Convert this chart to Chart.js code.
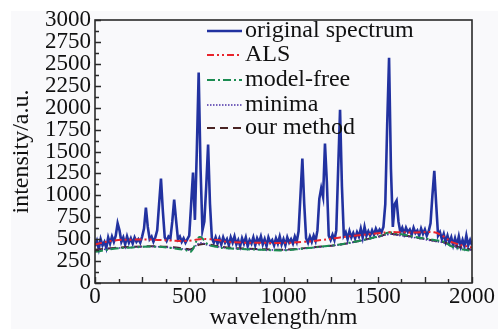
<!DOCTYPE html>
<html><head><meta charset="utf-8">
<script src="https://cdn.jsdelivr.net/npm/chart.js@4/dist/chart.umd.min.js"></script>
<style>html,body{margin:0;padding:0;background:#fff}canvas{display:block}</style>
</head><body>
<canvas id="c" width="498" height="329"></canvas>
<script>
// ---- data ----
const wavelength = [];
for (let w = 0; w <= 2000; w += 10) wavelength.push(w);
const original = [
420,480,390,500,430,470,400,520,450,530,470,540,680,600,470,520,440,530,460,510,
450,520,470,500,460,530,620,860,640,500,530,470,520,600,900,1190,820,520,480,530,
510,700,950,720,500,530,470,510,460,500,540,900,1260,720,1500,2400,1300,600,700,1100,
1580,900,510,460,520,450,510,440,520,460,500,430,520,460,530,440,490,420,510,450,
520,420,490,450,520,430,510,460,530,440,500,420,520,460,490,430,510,450,530,440,
500,430,520,460,500,450,530,470,590,1000,1420,900,510,460,530,470,540,480,600,960,
1080,980,1590,1150,540,490,550,490,600,1300,1975,1100,540,580,500,590,520,570,510,580,
530,620,520,640,540,590,540,600,550,620,570,610,580,640,900,1800,2570,1300,640,900,
940,700,580,630,560,630,580,610,550,630,570,600,540,620,560,610,540,590,680,1000,
1280,900,540,580,500,560,470,540,460,520,430,510,430,530,420,490,420,540,430,490,
430];
const baseX = [0,100,200,300,400,480,510,555,600,650,700,800,900,1000,1100,1200,1300,1400,1500,1560,1600,1700,1800,1850,1900,2000];
const als = [440,485,495,495,485,478,485,500,500,490,470,460,458,458,468,490,520,545,568,580,580,576,578,530,460,405];
const modelFree = [355,390,405,415,400,375,360,525,440,410,395,385,378,372,392,415,440,480,530,575,565,525,490,470,410,365];
const minima = [372,395,407,416,404,385,378,455,432,413,400,388,381,376,392,412,437,477,524,555,547,517,476,460,420,375];
const ourMethod = [380,400,412,420,410,392,385,440,440,420,405,392,385,380,395,415,440,480,528,560,552,522,482,465,425,380];
const seriesNames = ['original spectrum','ALS','model-free','minima','our method'];
const yTicksMajor = 250, yTicksStep = 125, xTicksMajor = 500, xTicksStep = 125;

const pts = (xs, ys) => xs.map((x, i) => ({x, y: ys[i]}));
const FONT = "'Liberation Serif','Times New Roman',serif";

const frameAndTicks = {
  id: 'frameAndTicks',
  beforeDraw(chart) {
    const ctx = chart.ctx;
    ctx.save();
    ctx.fillStyle = '#ffffff';
    ctx.fillRect(0, 0, chart.width, chart.height);
    ctx.fillStyle = '#f9f9fb';
    ctx.fillRect(11, 11, chart.width - 11, chart.height - 11);
    ctx.restore();
  },
  afterDraw(chart) {
    const {ctx, chartArea: a, scales: {x, y}} = chart;
    ctx.save();
    ctx.strokeStyle = '#2a2a2a';
    ctx.lineWidth = 1.6;
    ctx.strokeRect(a.left, a.top, a.right - a.left, a.bottom - a.top);
    ctx.lineWidth = 1.4;
    ctx.beginPath();
    x.ticks.forEach(t => {
      const px = Math.round(x.getPixelForValue(t.value)) + 0.5;
      const len = t.value % 250 === 0 ? 6 : 4;
      ctx.moveTo(px, a.bottom); ctx.lineTo(px, a.bottom - len);
    });
    y.ticks.forEach(t => {
      const py = Math.round(y.getPixelForValue(t.value)) + 0.5;
      const len = t.value % 250 === 0 ? 6 : 4;
      ctx.moveTo(a.left, py); ctx.lineTo(a.left + len, py);
    });
    ctx.stroke();
    ctx.restore();
  },
  afterDatasetsDraw(chart) {
    const ctx = chart.ctx;
    ctx.save();
    const x0 = 207, x1 = 242, tx = 245;
    const ys = [31, 55, 80, 105, 128];
    chart.data.datasets.forEach((ds, i) => {
      const yy = ys[i];
      ctx.beginPath();
      ctx.strokeStyle = ds.borderColor;
      ctx.lineWidth = ds.borderWidth;
      ctx.setLineDash(ds.borderDash || []);
      ctx.moveTo(x0, yy); ctx.lineTo(x1, yy);
      ctx.stroke();
      ctx.setLineDash([]);
      ctx.fillStyle = '#111';
      ctx.font = '24px ' + FONT;
      ctx.textBaseline = 'middle';
      ctx.textAlign = 'left';
      ctx.fillText(ds.label, tx, yy);
    });
    ctx.restore();
  }
};

new Chart(document.getElementById('c'), {
  type: 'line',
  data: {
    datasets: [
      {label: seriesNames[0], data: pts(wavelength, original), borderColor: '#2232a0', borderWidth: 2.6, pointRadius: 0, tension: 0, order: 1},
      {label: seriesNames[1], data: pts(baseX, als), borderColor: '#e8242c', borderWidth: 2, borderDash: [7,3,2,3,2,3], pointRadius: 0, tension: 0.4, order: 0},
      {label: seriesNames[2], data: pts(baseX, modelFree), borderColor: '#1c8c52', borderWidth: 2, borderDash: [8,3,2,3], pointRadius: 0, tension: 0.4, order: 0},
      {label: seriesNames[3], data: pts(baseX, minima), borderColor: '#4a30a8', borderWidth: 1.6, borderDash: [1.5,1.5], pointRadius: 0, tension: 0.4, order: 0},
      {label: seriesNames[4], data: pts(baseX, ourMethod), borderColor: '#4a2424', borderWidth: 2, borderDash: [8,5], pointRadius: 0, tension: 0.4, order: 0}
    ]
  },
  options: {
    responsive: false,
    animation: false,
    devicePixelRatio: 1,
    layout: {padding: {top: 20, right: 26, left: 0, bottom: 0}},
    plugins: {legend: {display: false}, tooltip: {enabled: false}},
    scales: {
      x: {
        type: 'linear', min: 0, max: 2000,
        grid: {display: false, drawTicks: false},
        border: {display: false},
        ticks: {stepSize: xTicksStep, autoSkip: false, maxRotation: 0, padding: 0, color: '#111',
          font: {family: FONT, size: 23},
          callback: v => (v % xTicksMajor === 0 ? String(v) : '')},
        title: {display: true, text: 'wavelength/nm', color: '#111', font: {family: FONT, size: 24}, padding: {top: 0, bottom: -3}},
        afterFit: s => { s.height = 46; }
      },
      y: {
        min: 0, max: 3000,
        grid: {display: false, drawTicks: false},
        border: {display: false},
        ticks: {stepSize: yTicksStep, autoSkip: false, padding: 4, color: '#111',
          font: {family: FONT, size: 23},
          callback: v => (v % yTicksMajor === 0 ? String(v) : '')},
        title: {display: true, text: 'intensity/a.u.', color: '#111', font: {family: FONT, size: 24}, padding: {top: 7, bottom: 0}},
        afterFit: s => { s.width = 95; }
      }
    }
  },
  plugins: [frameAndTicks]
});
</script>
</body></html>
